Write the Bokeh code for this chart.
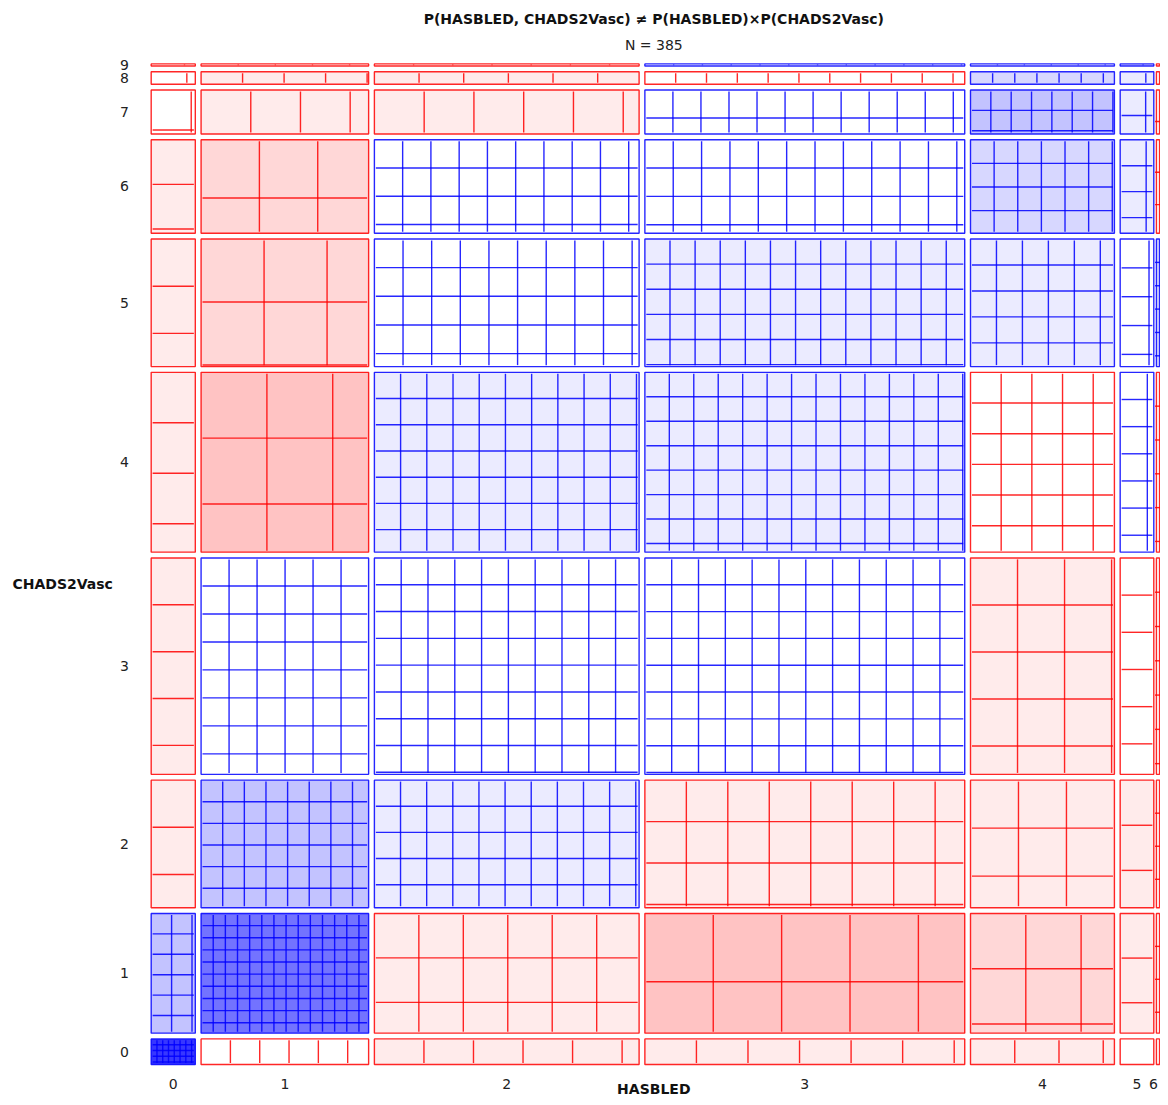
import math
import numpy as np
from bokeh.plotting import figure
from bokeh.models import Range1d
from bokeh.embed import file_html
from bokeh.resources import INLINE
from bokeh.core.properties import value

# ---------------- data ----------------
title_text = "P(HASBLED, CHADS2Vasc) \u2260 P(HASBLED)\u00d7P(CHADS2Vasc)"
x_attr = "HASBLED"
y_attr = "CHADS2Vasc"
hasbled_values = ["0", "1", "2", "3", "4", "5", "6"]
chads_values = ["0", "1", "2", "3", "4", "5", "6", "7", "8", "9"]

# observed counts per HASBLED value, over CHADS2Vasc = 0..9
hasbled_0 = [10, 8, 0, 1, 0, 0, 0, 0, 0, 0]
hasbled_1 = [2, 29, 18, 16, 1, 0, 0, 0, 0, 0]
hasbled_2 = [0, 8, 18, 27, 24, 14, 11, 1, 0, 0]
hasbled_3 = [0, 2, 12, 32, 32, 23, 13, 7, 2, 1]
hasbled_4 = [0, 1, 3, 7, 10, 11, 11, 9, 4, 1]
hasbled_5 = [0, 0, 0, 2, 4, 2, 3, 2, 1, 1]
hasbled_6 = [0, 0, 0, 0, 0, 1, 0, 0, 0, 0]

# ---------------- layout / style ----------------
W, H = 1160, 1097
X_LEFT = 147.8      # left edge of the sieve (px)
PX_X = 2.626        # px per observation horizontally
Y_BOTTOM = 1066.9   # bottom edge of the sieve
PX_Y = 2.614        # px per observation vertically
GAP = 5.77          # gap between cells
K = 1.443           # scale of the base 20px line distance
FONT = value("DejaVu Sans")

obs = np.array([hasbled_0, hasbled_1, hasbled_2, hasbled_3,
                hasbled_4, hasbled_5, hasbled_6], dtype=float)
n = obs.sum()
col_tot = obs.sum(axis=1)
row_tot = obs.sum(axis=0)
expected = np.outer(col_tot, row_tot) / n
resid = (obs - expected) / np.sqrt(expected)

p = figure(width=W, height=H, x_range=Range1d(0, W), y_range=Range1d(H, 0),
           toolbar_location=None, output_backend="svg", min_border=0)
p.axis.visible = False
p.grid.visible = False
p.outline_line_color = None
p.background_fill_color = "white"
p.border_fill_color = "white"

ql, qr, qt, qb, qfill, qline = [], [], [], [], [], []
sx0, sy0, sx1, sy1, scol = [], [], [], [], []

for c in range(len(hasbled_values)):
    left = X_LEFT + PX_X * col_tot[:c].sum()
    width = PX_X * col_tot[c]
    for r in range(len(chads_values)):
        bottom = Y_BOTTOM - PX_Y * row_tot[:r].sum()
        height = PX_Y * row_tot[r]
        top = bottom - height
        x = left + GAP / 2
        w = width - GAP
        y = top + GAP / 2
        h = height - GAP
        pr = resid[c, r]
        if pr > 0:
            v = max(255 - 20 * math.floor(pr), 55)
            fill = (v, v, 255)
            pen = "#0000ff"
            d = K * (20 - 1.6 * min(pr, 10))
        else:
            v = max(255 + 20 * math.ceil(pr), 55)
            fill = (255, v, v)
            pen = "#ff0000"
            d = K * (20 - 8 * max(pr, -10))
        fill = "#%02x%02x%02x" % fill
        ql.append(min(x, x + w)); qr.append(max(x, x + w))
        qt.append(min(y, y + h)); qb.append(max(y, y + h))
        qfill.append(fill); qline.append(pen)
        t = d
        while t < w:
            sx0.append(x + t); sy0.append(y + K); sx1.append(x + t); sy1.append(y + h - K)
            scol.append(pen)
            t += d
        t = d
        while t < h:
            sx0.append(x + K); sy0.append(y + t); sx1.append(x + w - K); sy1.append(y + t)
            scol.append(pen)
            t += d

p.quad(left=ql, right=qr, top=qt, bottom=qb, fill_color=qfill, line_color=qline,
       line_width=1.4, line_alpha=0.85)
p.segment(x0=sx0, y0=sy0, x1=sx1, y1=sy1, line_color=scol, line_width=1.4, line_alpha=0.85)

# tick labels (kept inside the canvas)
col_centers = [min(X_LEFT + PX_X * (col_tot[:c].sum() + col_tot[c] / 2), W - 7)
               for c in range(len(hasbled_values))]
row_centers = [Y_BOTTOM - PX_Y * (row_tot[:r].sum() + row_tot[r] / 2) for r in range(len(chads_values))]
p.text(x=col_centers, y=[1083] * len(col_centers), text=hasbled_values,
       text_font=FONT, text_font_size="14px", text_color="#222222",
       text_align="center", text_baseline="middle")
p.text(x=[124] * len(row_centers), y=row_centers, text=chads_values,
       text_font=FONT, text_font_size="14px", text_color="#222222",
       text_align="center", text_baseline="middle")

mid_x = X_LEFT + PX_X * n / 2
p.text(x=[mid_x], y=[18], text=[title_text], text_font=FONT, text_font_size="14px",
       text_font_style="bold", text_color="#111111", text_align="center", text_baseline="middle")
p.text(x=[mid_x], y=[44], text=["N = %d" % int(n)], text_font=FONT, text_font_size="14px",
       text_color="#222222", text_align="center", text_baseline="middle")
p.text(x=[mid_x], y=[1096], text=[x_attr], text_font=FONT, text_font_size="14px",
       text_font_style="bold", text_color="#111111", text_align="center", text_baseline="bottom")
p.text(x=[12], y=[583], text=[y_attr], text_font=FONT, text_font_size="14px",
       text_font_style="bold", text_color="#111111", text_align="left", text_baseline="middle")

open("out.html", "w").write(file_html(p, INLINE))
